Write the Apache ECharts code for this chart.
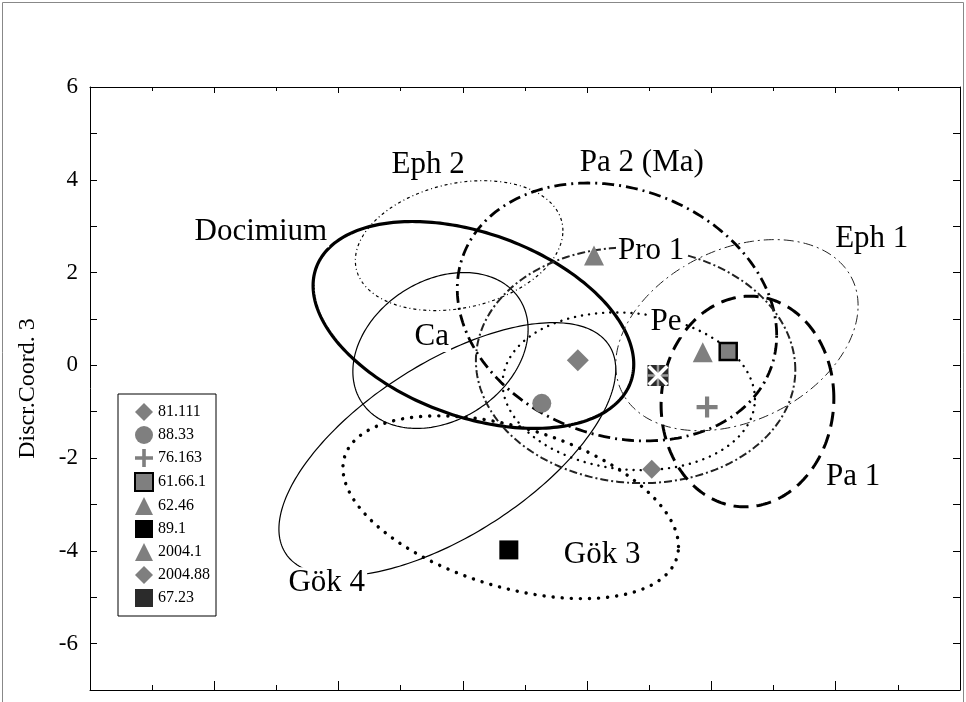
<!DOCTYPE html>
<html>
<head>
<meta charset="utf-8">
<script src="https://cdn.jsdelivr.net/npm/echarts@6/dist/echarts.min.js"></script>
<style>html,body{margin:0;padding:0;background:#fff;}#chart{width:966px;height:702px;}</style>
</head>
<body>
<div id="chart"></div>
<script>
// ---- data ----
const pointNames = ['81.111','88.33','76.163','61.66.1','62.46','89.1','2004.1','2004.88','67.23'];
const pointX = [3.04, 1.27, 3.93, 4.27, 2.11, 0.74, 3.86, 1.85, 3.14];
const pointY = [-2.24, -0.82, -0.90, 0.30, 2.37, -3.98, 0.28, 0.11, -0.22];

// confidence ellipses: centre, x/y spread, correlation
const ellipseNames = ['Docimium','Ca','Gök 4','Gök 3','Eph 2','Pa 2 (Ma)','Pro 1','Eph 1','Pe','Pa 1'];
const ellipseCx = [0.17, -0.36, -0.25, 0.77, -0.06, 2.48, 2.78, 4.41, 2.67, 4.58];
const ellipseCy = [0.87, 0.32, -1.81, -3.06, 2.58, 1.15, 0.00, 0.65, -0.56, -0.78];
const ellipseSx = [2.58, 1.41, 2.71, 2.70, 1.67, 2.57, 2.57, 1.95, 2.03, 1.39];
const ellipseSy = [2.23, 1.68, 2.73, 1.97, 1.40, 2.78, 2.54, 2.06, 1.70, 2.27];
const ellipseR  = [-0.38, 0.27, 0.63, -0.43, 0.23, -0.18, -0.04, 0.31, -0.10, 0.03];

// group labels (anchor in data units)
const labelTexts = ['Docimium','Eph 2','Pa 2 (Ma)','Pro 1','Eph 1','Pe','Ca','Pa 1','Gök 3','Gök 4'];
const labelX = [-3.25, -0.56, 2.88, 3.03, 6.58, 3.27, -0.50, 6.28, 2.24, -2.19];
const labelY = [2.88, 4.32, 4.37, 2.47, 2.73, 0.94, 0.62, -2.41, -4.09, -4.69];

const yTicks = [-6, -4, -2, 0, 2, 4, 6];

// ---- styles ----
const FONT = 'Liberation Serif, Times New Roman, serif';
const GRAY = '#7f7f7f';
const ellipseStyles = [
  {stroke:'#000', lineWidth:3.2},
  {stroke:'#000', lineWidth:1.2},
  {stroke:'#000', lineWidth:1.2},
  {stroke:'#000', lineWidth:3.4, lineDash:[0.1, 9], lineCap:'round'},
  {stroke:'#000', lineWidth:1.2, lineDash:[3, 3, 1, 3]},
  {stroke:'#000', lineWidth:2.8, lineDash:[12, 5, 2, 5]},
  {stroke:'#222', lineWidth:2.0, lineDash:[8, 3, 2, 3]},
  {stroke:'#222', lineWidth:1.0, lineDash:[10, 4, 2, 4]},
  {stroke:'#000', lineWidth:2.4, lineDash:[0.1, 7], lineCap:'round'},
  {stroke:'#000', lineWidth:3.0, lineDash:[15, 8]}
];
const PLUS = 'path://M4,0H6V4H10V6H6V10H4V6H0V4H4Z';
const XSHAPE = 'path://M0,1.2L1.2,0L10,8.8L8.8,10Z M8.8,0L10,1.2L1.2,10L0,8.8Z';
const CROSS = 'path://M4.4,0H5.6V10H4.4Z M0,4.4H10V5.6H0Z';
const pointSymbols = ['diamond','circle',PLUS,'rect','triangle','rect','triangle','diamond','rect'];
const pointSizes = [19, 19, 21, 17, 20, 19, 20, 22, 21];
const pointStyles = [
  {color:GRAY}, {color:GRAY}, {color:GRAY},
  {color:GRAY, borderColor:'#000', borderWidth:2.5},
  {color:GRAY}, {color:'#000'}, {color:GRAY}, {color:GRAY},
  {color:'#2b2b2b'}
];

const series = [];
ellipseNames.forEach(function (nm, i) {
  series.push({
    type: 'custom', name: nm, silent: true, z: 2,
    data: [[ellipseCx[i], ellipseCy[i], ellipseSx[i], ellipseSy[i], ellipseR[i]]],
    encode: {x: 0, y: 1},
    renderItem: function (params, api) {
      const cx = api.value(0), cy = api.value(1), sx = api.value(2), sy = api.value(3), r = api.value(4);
      const s = Math.sqrt(1 - r * r);
      const pts = [];
      for (let k = 0; k <= 240; k++) {
        const t = 2 * Math.PI * k / 240;
        pts.push(api.coord([cx + sx * Math.cos(t), cy + sy * (r * Math.cos(t) + s * Math.sin(t))]));
      }
      return {type: 'polyline', shape: {points: pts},
        style: Object.assign({fill: 'none'}, ellipseStyles[i])};
    }
  });
});
pointNames.forEach(function (nm, i) {
  series.push({
    type: 'scatter', name: nm, z: 5,
    symbol: pointSymbols[i], symbolSize: pointSizes[i],
    itemStyle: Object.assign({opacity: 1}, pointStyles[i]),
    data: [[pointX[i], pointY[i]]]
  });
});
// decorations of the 67.23 marker
series.push({type:'scatter', silent:true, z:6, symbol:CROSS, symbolSize:21,
  itemStyle:{color:'#9a9a9a', opacity:1}, data:[[pointX[8], pointY[8]]]});
series.push({type:'scatter', silent:true, z:7, symbol:XSHAPE, symbolSize:21,
  itemStyle:{color:'#ffffff', opacity:1}, data:[[pointX[8], pointY[8]]]});
// labels
series.push({
  type:'scatter', silent:true, z:10, symbolSize:1,
  itemStyle:{color:'rgba(0,0,0,0)', opacity:1},
  data: labelTexts.map(function (t, i) { return {name: t, value: [labelX[i], labelY[i]]}; }),
  label: {show:true, position:'inside', formatter: function (p) { return p.name; },
    fontFamily: FONT, fontSize: 31, color:'#000', backgroundColor:'#fff', padding:[0, 2]}
});

const axisCommon = {
  axisLine: {show:true, onZero:false, lineStyle:{color:'#000', width:1}},
  splitLine: {show:false}
};

const option = {
  backgroundColor: '#fff',
  animation: false,
  grid: {left: 90, right: 6, top: 87, bottom: 12},
  graphic: [{type:'rect', shape:{x:2.5, y:2.5, width:961, height:720},
    style:{fill:'none', stroke:'#888', lineWidth:1}, silent:true}],
  legend: {
    data: pointNames, orient: 'vertical', left: 118, top: 394,
    padding: [9, 6, 9, 16], itemGap: 5, itemWidth: 18, itemHeight: 18,
    backgroundColor: '#fff', borderColor: '#000', borderWidth: 1, borderRadius: 0,
    textStyle: {fontFamily: FONT, fontSize: 16, color: '#000'},
    selectedMode: false, z: 20
  },
  xAxis: [
    Object.assign({type:'value', min:-6, max:8, interval:2, position:'bottom',
      axisLabel:{show:false},
      axisTick:{show:true, inside:true, length:9, lineStyle:{color:'#000'}},
      minorTick:{show:true, splitNumber:2, length:5, lineStyle:{color:'#000'}}}, axisCommon),
    Object.assign({type:'value', min:-6, max:8, interval:2, position:'top',
      axisLabel:{show:false},
      axisTick:{show:true, inside:true, length:6, lineStyle:{color:'#000'}},
      minorTick:{show:true, splitNumber:2, length:4, lineStyle:{color:'#000'}}}, axisCommon)
  ],
  yAxis: [
    Object.assign({type:'value', min:-7, max:6, interval:1, position:'left',
      name:'Discr.Coord. 3', nameLocation:'middle', nameGap:50,
      nameTextStyle:{fontFamily:FONT, fontSize:24, color:'#000'},
      axisLabel:{show:true, margin:12, fontFamily:FONT, fontSize:23, color:'#000',
        formatter: function (v) { return yTicks.indexOf(v) >= 0 ? String(v) : ''; }},
      axisTick:{show:true, inside:true, length:7, lineStyle:{color:'#000'}}}, axisCommon),
    Object.assign({type:'value', min:-7, max:6, interval:1, position:'right',
      axisLabel:{show:false},
      axisTick:{show:true, inside:true, length:7, lineStyle:{color:'#000'}}}, axisCommon)
  ],
  series: series
};

const chart = echarts.init(document.getElementById('chart'), null, {renderer:'canvas'});
chart.setOption(option);
</script>
</body>
</html>
